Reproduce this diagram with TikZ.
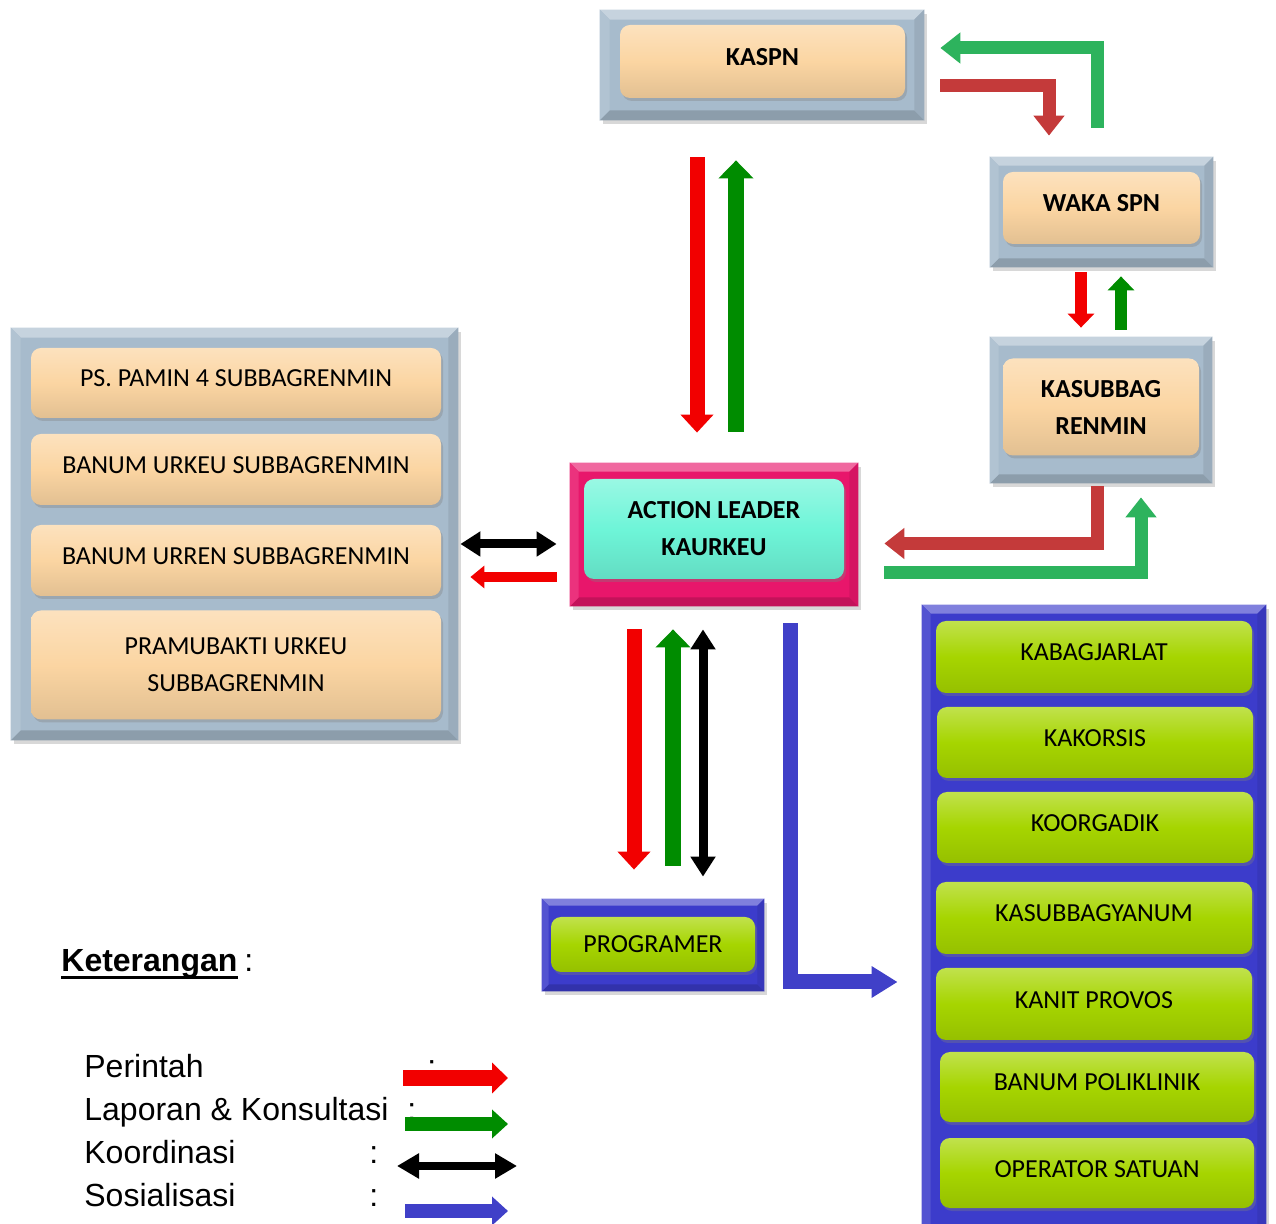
\documentclass[tikz,border=0pt]{standalone}
\usepackage{fontspec}
\setmainfont{Carlito}
\newfontfamily\arialf{Liberation Sans}
\usetikzlibrary{arrows.meta,shadows,calc}
\definecolor{framegray}{HTML}{A7BBCC}
\definecolor{peach}{HTML}{FBD5A2}
\definecolor{hotpink}{HTML}{E8166B}
\definecolor{aqua}{HTML}{6EF5D8}
\definecolor{royal}{HTML}{3C3CCB}
\definecolor{lime}{HTML}{A6D500}
\definecolor{arrred}{HTML}{F20000}
\definecolor{arrgreen}{HTML}{008C00}
\definecolor{elbred}{HTML}{C43A3A}
\definecolor{elbgreen}{HTML}{2DB35D}
\definecolor{arrblue}{HTML}{4040C8}
\newcommand\mybevel[3]{%
 \fill[#2!65!white] (#1.north west) -- (#1.north east) -- ([shift={(-#3,#3)}]#1.north east) -- ([shift={(#3,#3)}]#1.north west) -- cycle;
 \fill[#2!84!black] (#1.south west) -- (#1.south east) -- ([shift={(-#3,-#3)}]#1.south east) -- ([shift={(#3,-#3)}]#1.south west) -- cycle;
 \fill[#2!88!white] (#1.north west) -- (#1.south west) -- ([shift={(#3,-#3)}]#1.south west) -- ([shift={(#3,#3)}]#1.north west) -- cycle;
 \fill[#2!92!black] (#1.north east) -- (#1.south east) -- ([shift={(-#3,-#3)}]#1.south east) -- ([shift={(-#3,#3)}]#1.north east) -- cycle;
}
\tikzset{
 outerbox/.style={fill=#1, inner sep=0pt, drop shadow={opacity=0.3,shadow xshift=1.5pt,shadow yshift=-2pt}},
 innerbox/.style={rounded corners=5pt, inner sep=0pt, top color=#1!70!white, bottom color=#1!90!black, middle color=#1,
   drop shadow={opacity=0.35,shadow xshift=1pt,shadow yshift=-1.5pt}, font=\fontsize{13}{18.5}\selectfont},
 boldtext/.style={font=\fontsize{13}{18.5}\selectfont\bfseries},
 oneline/.style={text height=9pt, text depth=5pt},
 twoline/.style={align=center},
 redMain/.style={draw=arrred, line width=7.5pt, -{Triangle[width=16pt,length=9pt]}},
 greenMain/.style={draw=arrgreen, line width=8pt, -{Triangle[width=17pt,length=9pt]}},
 blackDbl/.style={draw=black, line width=4.5pt, {Triangle[width=12pt,length=10pt]}-{Triangle[width=12pt,length=10pt]}},
 redElbow/.style={draw=elbred, line width=6.5pt, -{Triangle[width=15pt,length=10pt]}},
 greenElbow/.style={draw=elbgreen, line width=6.5pt, -{Triangle[width=15pt,length=10pt]}},
 redSmall/.style={draw=arrred, line width=6pt, -{Triangle[width=13pt,length=7pt]}},
 greenSmall/.style={draw=arrgreen, line width=6pt, -{Triangle[width=13pt,length=7pt]}},
 redLeft/.style={draw=arrred, line width=5pt, -{Triangle[width=11pt,length=7pt]}},
 blueElbow/.style={draw=arrblue, line width=7.5pt, -{Triangle[width=15pt,length=13pt]}},
 legtext/.style={anchor=base west, inner sep=0pt, font=\arialf\fontsize{16}{19}\selectfont},
 legRed/.style={draw=arrred, line width=8pt, -{Triangle[width=15pt,length=8pt]}},
 legGreen/.style={draw=arrgreen, line width=7pt, -{Triangle[width=14pt,length=8pt]}},
 legBlack/.style={draw=black, line width=4pt, {Triangle[width=12pt,length=11pt]}-{Triangle[width=12pt,length=11pt]}},
 legBlue/.style={draw=arrblue, line width=7pt, -{Triangle[width=14pt,length=8pt]}},
}
\begin{document}
\begin{tikzpicture}[x=0.5pt,y=-0.5pt]
\fill[white] (0,0) rectangle (1276,1224);
\useasboundingbox (0,0) rectangle (1276,1224);

% KASPN
\node[outerbox=framegray, minimum width=162pt, minimum height=55pt] (kaspnF) at (762,65) {};
\mybevel{kaspnF}{framegray}{10}
\node[innerbox=peach, boldtext, oneline, minimum width=142.5pt, minimum height=36.5pt] (kaspn) at (762.5,61.5) {KASPN};

% WAKA SPN
\node[outerbox=framegray, minimum width=111.5pt, minimum height=55pt] (wakaF) at (1101.5,212) {};
\mybevel{wakaF}{framegray}{9}
\node[innerbox=peach, boldtext, oneline, minimum width=98.5pt, minimum height=36pt] (waka) at (1101.5,208) {WAKA SPN};

% KASUBBAG RENMIN
\node[outerbox=framegray, minimum width=111pt, minimum height=73pt] (kasF) at (1101,410) {};
\mybevel{kasF}{framegray}{9}
\node[innerbox=peach, boldtext, twoline, minimum width=98pt, minimum height=48.5pt] (kas) at (1101,407) {KASUBBAG\\RENMIN};

% ACTION LEADER
\node[outerbox=hotpink, minimum width=144pt, minimum height=71.5pt] (actF) at (714,534.5) {};
\mybevel{actF}{hotpink}{9}
\node[innerbox=aqua, boldtext, twoline, minimum width=130pt, minimum height=50pt] (act) at (714,529) {ACTION LEADER\\KAURKEU};

% Left group
\node[outerbox=framegray, minimum width=223.5pt, minimum height=206pt] (leftF) at (234.5,534) {};
\mybevel{leftF}{framegray}{10}
\node[innerbox=peach, oneline, minimum width=205pt, minimum height=35pt] (ps) at (236,383) {PS. PAMIN 4 SUBBAGRENMIN};
\node[innerbox=peach, oneline, minimum width=205pt, minimum height=35.5pt] (urkeu) at (236,469.5) {BANUM URKEU SUBBAGRENMIN};
\node[innerbox=peach, oneline, minimum width=205pt, minimum height=35.5pt] (urren) at (236,560.5) {BANUM URREN SUBBAGRENMIN};
\node[innerbox=peach, twoline, minimum width=205pt, minimum height=54.5pt] (pramu) at (236,665) {PRAMUBAKTI URKEU\\SUBBAGRENMIN};

% PROGRAMER
\node[outerbox=royal, minimum width=111pt, minimum height=46pt] (progF) at (653,945) {};
\mybevel{progF}{royal}{7}
\node[innerbox=lime, minimum width=102pt, minimum height=27.5pt] (prog) at (653,944.5) {PROGRAMER};

% Right group
\node[outerbox=royal, minimum width=172pt, minimum height=315pt] (rightF) at (1094,920) {};
\mybevel{rightF}{royal}{9}
\node[innerbox=lime, oneline, minimum width=158pt, minimum height=36pt] (r1) at (1094,657) {KABAGJARLAT};
\node[innerbox=lime, oneline, minimum width=158pt, minimum height=35.5pt] (r2) at (1095,742.5) {KAKORSIS};
\node[innerbox=lime, oneline, minimum width=158pt, minimum height=35.5pt] (r3) at (1095,827.5) {KOORGADIK};
\node[innerbox=lime, oneline, minimum width=158pt, minimum height=36pt] (r4) at (1094,918) {KASUBBAGYANUM};
\node[innerbox=lime, oneline, minimum width=158pt, minimum height=36pt] (r5) at (1094,1004) {KANIT PROVOS};
\node[innerbox=lime, oneline, minimum width=157pt, minimum height=35pt] (r6) at (1097,1087) {BANUM POLIKLINIK};
\node[innerbox=lime, oneline, minimum width=157pt, minimum height=35pt] (r7) at (1097,1173) {OPERATOR SATUAN};

% Connectors
\draw[redMain] ($(kaspnF.south)+(-65,37)$) -- ($(actF.north)+(-17,-30)$);
\draw[greenMain] ($(actF.north)+(22,-31)$) -- ($(kaspnF.south)+(-26,40)$);
\draw[redElbow] ($(kaspnF.east)+(16,21)$) -| ($(wakaF.north)+(-52.5,-21)$);
\draw[greenElbow] ($(wakaF.north)+(-4.5,-29)$) |- ($(kaspnF.east)+(16,-17)$);
\draw[redSmall] ($(wakaF.south)+(-20.5,5)$) -- ($(kasF.north)+(-20,-9)$);
\draw[greenSmall] ($(kasF.north)+(20,-7)$) -- ($(wakaF.south)+(19.5,9)$);
\draw[redElbow] ($(kasF.south)+(-4,3)$) |- ($(actF.east)+(26,9)$);
\draw[greenElbow] ($(actF.east)+(26,38)$) -| ($(kasF.south)+(40,14)$);
\draw[blackDbl] ($(leftF.east)+(2,10)$) -- ($(actF.west)+(-13,9.5)$);
\draw[redLeft] ($(actF.west)+(-13,42.5)$) -- ($(leftF.east)+(12,43)$);
\draw[redMain] ($(actF.south)+(-80,23)$) -- ($(progF.north)+(-19,-29)$);
\draw[greenMain] ($(progF.north)+(20,-33)$) -- ($(actF.south)+(-41,23)$);
\draw[blackDbl] ($(actF.south)+(-11,23)$) -- ($(progF.north)+(50,-22)$);
\draw[blueElbow] ($(actF.south)+(76,17)$) |- ($(rightF.west)+(-24,62)$);

% Legend
\node[anchor=base west, inner sep=0pt, font=\arialf\bfseries\fontsize{16}{19}\selectfont] (ket) at (61,972) {Keterangan};
\draw[line width=1.5pt] ($(ket.base west)+(0,6)$) -- ($(ket.base east)+(0,6)$);
\node[anchor=base west, inner sep=0pt, font=\arialf\fontsize{16}{19}\selectfont] (ketc) at (244,972) {:};
\node[legtext] (l1) at (84,1078) {Perintah};
\node[legtext] (l2) at (84,1121) {Laporan \& Konsultasi};
\node[legtext] (l3) at (84,1163) {Koordinasi};
\node[legtext] (l4) at (84,1206) {Sosialisasi};
\node[legtext] (c1) at (427,1078) {:};
\node[legtext] (c2) at (407,1121) {:};
\node[legtext] (c3) at (369,1163) {:};
\node[legtext] (c4) at (369,1206) {:};
\coordinate (lr1) at (403,1078); \coordinate (lr2) at (508,1078);
\coordinate (lg1) at (405,1124); \coordinate (lg2) at (508,1124);
\coordinate (lb1) at (397,1166); \coordinate (lb2) at (517,1166);
\coordinate (lu1) at (405,1211); \coordinate (lu2) at (508,1211);
\draw[legRed] (lr1) -- (lr2);
\draw[legGreen] (lg1) -- (lg2);
\draw[legBlack] (lb1) -- (lb2);
\draw[legBlue] (lu1) -- (lu2);
\end{tikzpicture}
\end{document}
